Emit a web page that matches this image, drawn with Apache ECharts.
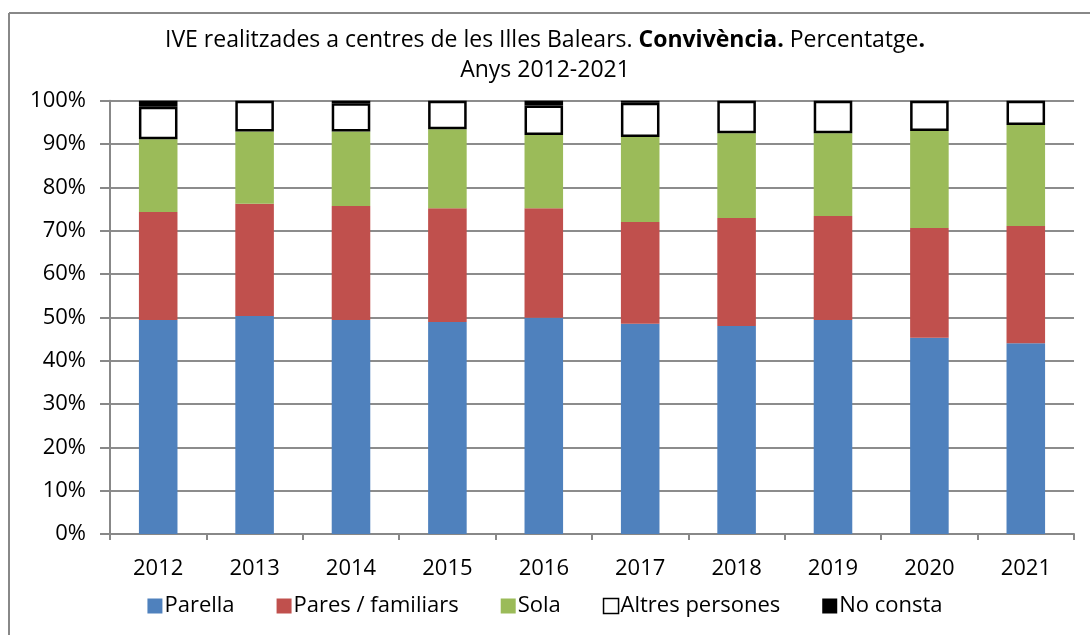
<!DOCTYPE html>
<html>
<head>
<meta charset="utf-8">
<script src="https://cdn.jsdelivr.net/npm/echarts@6/dist/echarts.min.js"></script>
<style>
  html, body { margin:0; padding:0; background:#fff; }
  #chart { width:1090px; height:635px; }
</style>
</head>
<body>
<div id="chart"></div>
<script>
const years = ['2012','2013','2014','2015','2016','2017','2018','2019','2020','2021'];
const parella   = [49.4, 50.3, 49.4, 48.9, 49.9, 48.5, 48.0, 49.4, 45.3, 44.0];
const pares     = [24.9, 25.9, 26.3, 26.3, 25.3, 23.5, 24.9, 24.0, 25.3, 27.1];
const sola      = [16.8, 16.7, 17.2, 18.2, 16.9, 19.6, 19.6, 19.1, 22.4, 23.3];
const altres    = [ 7.5,  7.1,  6.5,  6.6,  6.8,  7.9,  7.5,  7.5,  7.0,  5.6];
const noConsta  = [ 1.4,  0.0,  0.6,  0.0,  1.1,  0.5,  0.0,  0.0,  0.0,  0.0];
const yTicks = ['0%','10%','20%','30%','40%','50%','60%','70%','80%','90%','100%'];

const font = '"Open Sans", "Noto Sans", sans-serif';
const chart = echarts.init(document.getElementById('chart'), null, { renderer:'canvas' });

function bar(name, data, color, extra) {
  return Object.assign({
    type:'bar', name, data, stack:'total', barWidth:'40%',
    itemStyle:{ color, borderColor: color, borderWidth:0 },
    emphasis:{ disabled:true }
  }, extra || {});
}

chart.setOption({
  backgroundColor:'#fff',
  animation:false,
  textStyle:{ fontFamily: font },
  title:{
    left:'center', top:20,
    text:'IVE realitzades a centres de les Illes Balears. {b|Convivència.} Percentatge{b|.}\nAnys 2012-2021',
    textStyle:{
      fontFamily: font, fontSize:23, fontWeight:'normal', color:'#000', lineHeight:30,
      rich:{ b:{ fontFamily: font, fontSize:23, fontWeight:'bold', color:'#000' } }
    }
  },
  legend:{
    bottom:13, left:'center', itemWidth:15, itemHeight:15, itemGap:42,
    textStyle:{ fontFamily: font, fontSize:22, color:'#000', padding:[0,0,0,-3] },
    data:[
      { name:'Parella', icon:'rect' },
      { name:'Pares / familiars', icon:'rect' },
      { name:'Sola', icon:'rect' },
      { name:'Altres persones', icon:'rect', itemStyle:{ color:'#fff', borderColor:'#000', borderWidth:1.5 } },
      { name:'No consta', icon:'rect' }
    ]
  },
  grid:{ left:110, right:16, top:100.7, bottom:101, containLabel:false },
  xAxis:{
    type:'category', data:years,
    axisLine:{ lineStyle:{ color:'#888', width:2 } },
    axisTick:{ show:true, length:6, inside:false, lineStyle:{ color:'#888', width:2 } },
    axisLabel:{ fontFamily: font, fontSize:22, color:'#000', margin:24 }
  },
  yAxis:{
    type:'value', min:0, max:100, interval:10,
    axisLine:{ show:true, lineStyle:{ color:'#888', width:2 } },
    axisTick:{ show:true, length:10, lineStyle:{ color:'#888', width:2 } },
    axisLabel:{ fontFamily: font, fontSize:22, color:'#000', margin:24,
      formatter: v => yTicks[Math.round(v/10)] },
    splitLine:{ show:true, lineStyle:{ color:'#8c8c8c', width:2 } }
  },
  graphic:[
    { type:'line', shape:{ x1:9, y1:13, x2:1090, y2:13 }, style:{ stroke:'#888', lineWidth:2 } },
    { type:'line', shape:{ x1:9, y1:13, x2:9, y2:635 }, style:{ stroke:'#888', lineWidth:2 } }
  ],
  series:[
    bar('Parella', parella, '#4f81bd'),
    bar('Pares / familiars', pares, '#c0504d'),
    bar('Sola', sola, '#9bbb59'),
    bar('Altres persones', altres, '#fff', { itemStyle:{ color:'#fff', borderColor:'#000', borderWidth:2.5 } }),
    bar('No consta', noConsta, '#000')
  ]
});
</script>
</body>
</html>
